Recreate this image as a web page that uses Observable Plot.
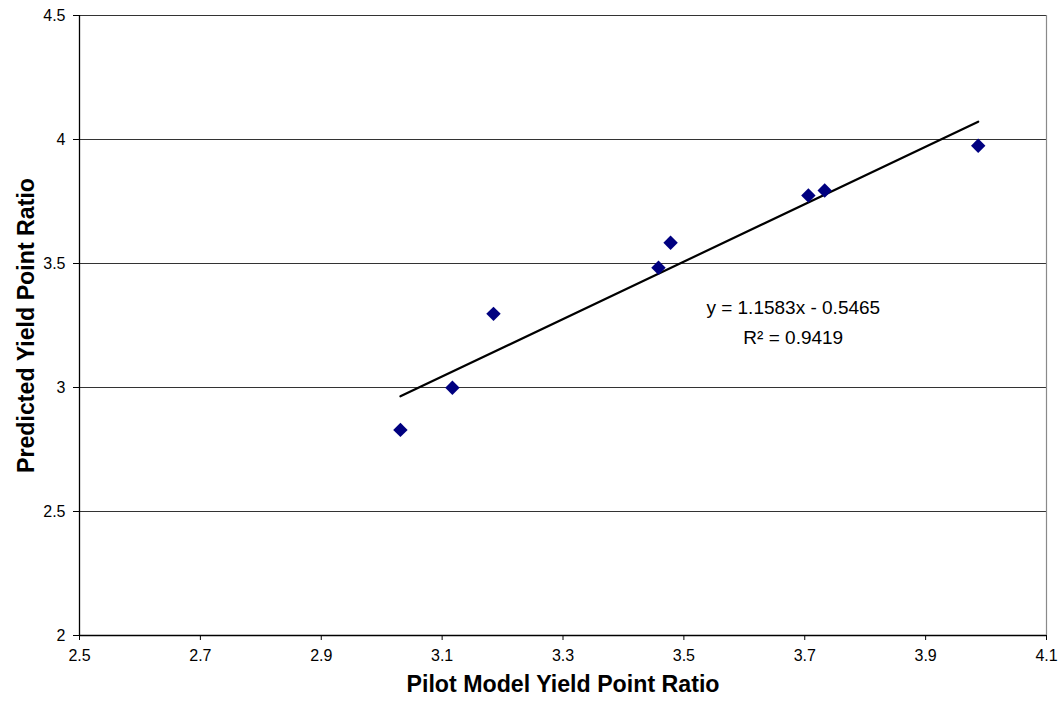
<!DOCTYPE html>
<html>
<head>
<meta charset="utf-8">
<script src="https://cdn.jsdelivr.net/npm/d3@7"></script>
<script src="https://cdn.jsdelivr.net/npm/@observablehq/plot@0.6"></script>
<style>
  html, body { margin: 0; padding: 0; background: #ffffff; }
  #chart { width: 1060px; height: 706px; }
  #chart g[aria-label$="tick label"], #chart g[aria-label$="tick label"] text { font-size: 16px !important; fill: #000; }
</style>
</head>
<body>
<div id="chart"></div>
<script>
// Data
const pilotRatio     = [3.031, 3.117, 3.185, 3.458, 3.478, 3.706, 3.733, 3.987];
const predictedRatio = [2.829, 2.999, 3.297, 3.483, 3.584, 3.774, 3.794, 3.975];

// Trendline coefficients as printed on the chart
const trendSlope = 1.1583;
const trendIntercept = -0.5465;
const trendR2 = 0.9419;

// Axis ticks
const xTicks = [2.5, 2.7, 2.9, 3.1, 3.3, 3.5, 3.7, 3.9, 4.1];
const xTickLabels = ["2.5", "2.7", "2.9", "3.1", "3.3", "3.5", "3.7", "3.9", "4.1"];
const yTicks = [2, 2.5, 3, 3.5, 4, 4.5];
const yTickLabels = ["2", "2.5", "3", "3.5", "4", "4.5"];
const gridValues = [2.5, 3, 3.5, 4, 4.5];

const xTitle = "Pilot Model Yield Point Ratio";
const yTitle = "Predicted Yield Point Ratio";

const points = pilotRatio.map((x, i) => ({x, y: predictedRatio[i]}));
const xExtent = d3.extent(pilotRatio);
const trend = xExtent.map(x => ({x, y: trendSlope * x + trendIntercept}));

const eqText = `y = ${trendSlope.toFixed(4)}x - ${Math.abs(trendIntercept).toFixed(4)}`;
const r2Text = `R² = ${trendR2.toFixed(4)}`;

const chart = Plot.plot({
  width: 1060,
  height: 706,
  marginLeft: 79,
  marginRight: 14,
  marginTop: 15,
  marginBottom: 71,
  style: { fontFamily: "'Liberation Sans', Arial, sans-serif", fontSize: "16px", background: "#ffffff", color: "#000" },
  x: { domain: [2.5, 4.1] },
  y: { domain: [2, 4.5] },
  marks: [
    Plot.ruleY(gridValues, { stroke: "#333333", strokeWidth: 1.2 }),
    Plot.ruleX([4.1], { stroke: "#8a8a8a", strokeWidth: 1.2 }),
    Plot.ruleX([2.5], { stroke: "#000", strokeWidth: 1.3 }),
    Plot.ruleY([2], { stroke: "#000", strokeWidth: 1.3 }),
    Plot.axisX({
      ticks: xTicks,
      tickFormat: d => xTickLabels[xTicks.indexOf(d)],
      tickSize: 5,
      tickPadding: 9,
      fontSize: 16,
      stroke: "#000",
      label: null
    }),
    Plot.axisY({
      ticks: yTicks,
      tickFormat: d => yTickLabels[yTicks.indexOf(d)],
      tickSize: 6,
      tickPadding: 8,
      fontSize: 16,
      stroke: "#000",
      label: null
    }),
    Plot.line(trend, { x: "x", y: "y", stroke: "#000", strokeWidth: 2.2 }),
    Plot.dot(points, { x: "x", y: "y", symbol: "diamond2", r: 6.5, fill: "#000080", stroke: "none" }),
    Plot.text([eqText], { x: 3.681, y: 3.322, text: d => d, fontSize: 19, fill: "#000" }),
    Plot.text([r2Text], { x: 3.681, y: 3.201, text: d => d, fontSize: 19, fill: "#000" }),
    Plot.text([xTitle], { frameAnchor: "bottom", textAnchor: "middle", dy: 56, text: d => d, fontSize: 23.2, fontWeight: "bold", fill: "#000" }),
    Plot.text([yTitle], { frameAnchor: "left", textAnchor: "middle", dx: -53, rotate: -90, text: d => d, fontSize: 23.2, fontWeight: "bold", fill: "#000" })
  ]
});
document.getElementById("chart").appendChild(chart);
</script>
</body>
</html>
